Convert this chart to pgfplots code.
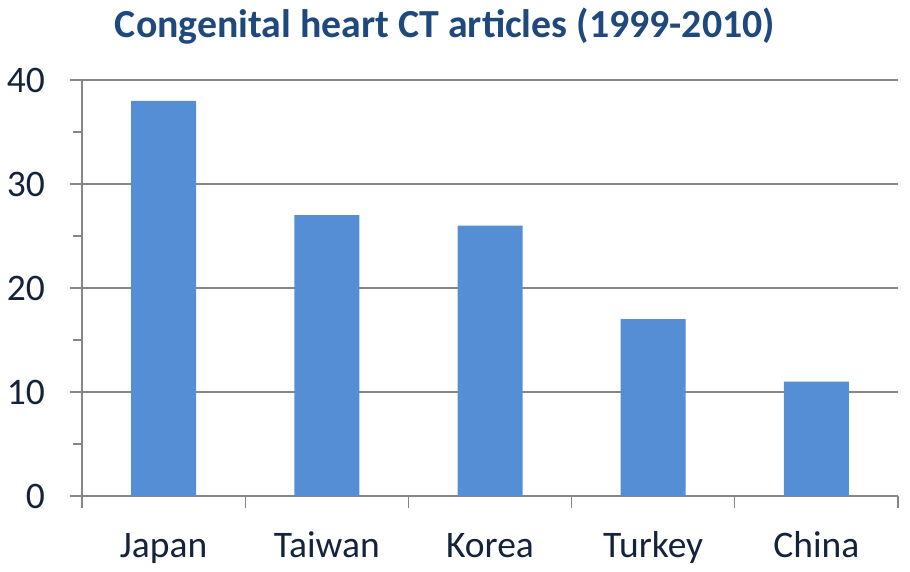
\documentclass[border=0pt]{standalone}
\usepackage{pgfplots}
\pgfplotsset{compat=1.18}
\usepackage{fontspec}
\setmainfont{Carlito}
\definecolor{barblue}{HTML}{558ED5}
\definecolor{gridgray}{HTML}{868686}
\definecolor{textnavy}{HTML}{14233B}
\definecolor{titleblue}{HTML}{1F497D}
\begin{document}
\begin{tikzpicture}[x=1pt,y=1pt]
\path[use as bounding box] (0,0) rectangle (910,572);
\begin{axis}[
  at={(82pt,76pt)}, anchor=south west,
  scale only axis, width=816pt, height=416pt,
  xmin=0.5, xmax=5.5, ymin=0, ymax=40,
  enlargelimits=false,
  axis x line=bottom, axis y line=left,
  axis line style={-, draw=gridgray, line width=1.3pt},
  ytick={0,10,20,30,40},
  minor y tick num=1,
  ymajorgrids,
  grid style={draw=gridgray, line width=1.3pt},
  tick align=outside,
  major tick length=12pt, minor tick length=9pt,
  tick style={draw=gridgray, line width=1.3pt},
  xtick={0.5,1.5,2.5,3.5,4.5,5.5},
  xticklabels={},
  extra x ticks={1,2,3,4,5},
  extra x tick labels={Japan,Taiwan,Korea,Turkey,China},
  extra x tick style={major tick length=0pt, grid=none},
  xticklabel style={anchor=base, yshift=-62pt, inner sep=0pt},
  yticklabel style={anchor=east, xshift=-25pt, inner sep=0pt},
  ticklabel style={font=\fontsize{37.5}{44}\selectfont, text=textnavy},
  /pgf/number format/assume math mode=true,
]
\addplot[ybar, bar width=65pt, fill=barblue, draw=none] coordinates {
  (1,38) (2,27) (3,26) (4,17) (5,11)
};
\end{axis}
\node[anchor=base, text=titleblue, font=\fontsize{39.8}{46}\selectfont\bfseries] at (445,534) {Congenital heart CT articles (1999-2010)};
\end{tikzpicture}
\end{document}
